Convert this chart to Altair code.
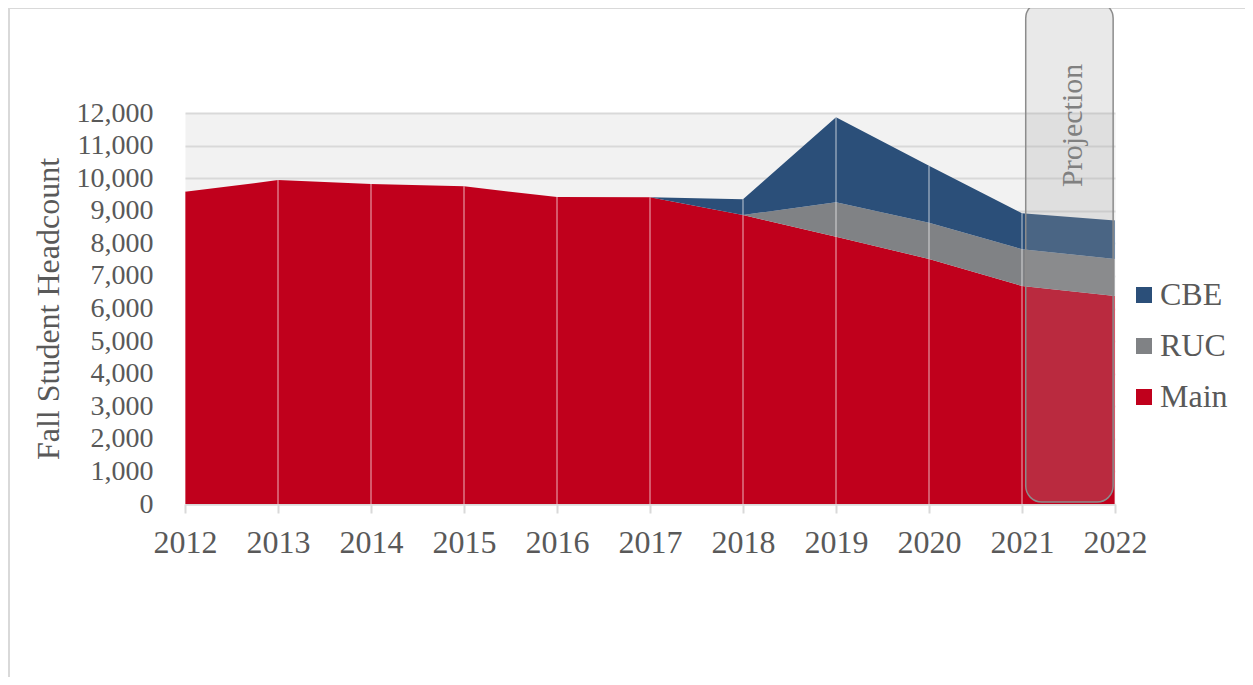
import altair as alt
import pandas as pd

years = [2012, 2013, 2014, 2015, 2016, 2017, 2018, 2019, 2020, 2021, 2022]
main = [9580, 9940, 9820, 9750, 9420, 9415, 8870, 8200, 7520, 6690, 6380]
ruc = [0, 0, 0, 0, 0, 0, 0, 1060, 1110, 1130, 1140]
cbe = [0, 0, 0, 0, 0, 0, 480, 2610, 1750, 1100, 1180]

campuses = ["CBE", "RUC", "Main"]
colors = ["#2b4f79", "#808285", "#c0001c"]
stack_rank = {"Main": 0, "RUC": 1, "CBE": 2}
y_ticks = [0, 1000, 2000, 3000, 4000, 5000, 6000, 7000, 8000, 9000, 10000, 11000, 12000]
y_title = "Fall Student Headcount"

proj_label = ["Projection"]
proj_x = [2021.04]
proj_x2 = [2021.98]
proj_y = [60]
proj_y2 = [15400]
proj_text_x = [2021.55]
proj_text_y = [11620]

FONT = "Liberation Serif"
TXT = "#595959"

rows = []
for i, yr in enumerate(years):
    for name, vals in (("Main", main), ("RUC", ruc), ("CBE", cbe)):
        rows.append({"year": yr, "campus": name, "value": vals[i], "rank": stack_rank[name]})
df = pd.DataFrame(rows)
tot = pd.DataFrame({"year": years, "total": [m + r + c for m, r, c in zip(main, ruc, cbe)], "zero": [0] * len(years)})

xscale = alt.Scale(domain=[2012, 2022], nice=False, zero=False)
yscale = alt.Scale(domain=[0, 12000], nice=False)

xaxis = alt.Axis(values=years, format="d", labelFontSize=32, labelFont=FONT, labelColor=TXT,
                 grid=False, domainColor="#d9d9d9", domainWidth=2, tickColor="#d9d9d9",
                 tickWidth=2, tickSize=9, labelPadding=14, labelFlush=False, labelOverlap=False)
yaxis = alt.Axis(values=y_ticks, format=",.0f", labelFontSize=28, labelFont=FONT,
                 labelColor=TXT, domain=False, ticks=False, labelPadding=32, labelOverlap=False,
                 gridColor="#d9d9d9", gridWidth=2, titleFont=FONT, titleFontSize=32,
                 titleFontWeight="normal", titleColor=TXT, titlePadding=11)

area = alt.Chart(df).mark_area(opacity=1).encode(
    x=alt.X("year:Q", scale=xscale, title=None, axis=xaxis),
    y=alt.Y("value:Q", stack="zero", scale=yscale, title=y_title, axis=yaxis),
    color=alt.Color("campus:N", scale=alt.Scale(domain=campuses, range=colors),
                    legend=alt.Legend(title=None, orient="none", legendX=943, legendY=166,
                                      symbolType="square", symbolSize=256, symbolStrokeWidth=0,
                                      labelFontSize=32, labelFont=FONT, labelColor=TXT,
                                      rowPadding=19, labelOffset=0, padding=0)),
    order=alt.Order("rank:Q", sort="ascending"),
)

rules = alt.Chart(tot).mark_rule(color="white", opacity=0.35, strokeWidth=2).encode(
    x=alt.X("year:Q", scale=xscale, title=None, axis=xaxis),
    y=alt.Y("zero:Q", scale=yscale, title=y_title, axis=yaxis),
    y2="total:Q",
)

box_df = pd.DataFrame({"x": proj_x, "x2": proj_x2, "y": proj_y, "y2": proj_y2})
box = alt.Chart(box_df).mark_rect(cornerRadius=16, fill="#a8a8a8", fillOpacity=0.25,
                                  stroke="#8c8c8c", strokeWidth=1.5).encode(
    x=alt.X("x:Q", scale=xscale, title=None, axis=xaxis), x2="x2:Q",
    y=alt.Y("y:Q", scale=yscale, title=y_title, axis=yaxis), y2="y2:Q",
)

txt_df = pd.DataFrame({"x": proj_text_x, "y": proj_text_y, "t": proj_label})
ptext = alt.Chart(txt_df).mark_text(angle=270, font=FONT, fontSize=30, color="#808080",
                                    align="center", baseline="middle").encode(
    x=alt.X("x:Q", scale=xscale, title=None, axis=xaxis),
    y=alt.Y("y:Q", scale=yscale, title=y_title, axis=yaxis), text="t:N")

frame = alt.Chart(pd.DataFrame({"a": [0]})).mark_rect(fillOpacity=0, stroke="#d9d9d9", strokeWidth=2).encode(
    x=alt.value(-176), x2=alt.value(1200), y=alt.value(-105), y2=alt.value(700))

chart = alt.layer(frame, area, rules, box, ptext).properties(
    width=930, height=391,
    autosize=alt.AutoSizeParams(type="none"),
    padding={"left": 177, "top": 105, "right": 130, "bottom": 173},
).configure_view(fill="#f2f2f2", stroke="transparent")

chart.save("out.html", embed_options={"renderer": "svg", "actions": False})
